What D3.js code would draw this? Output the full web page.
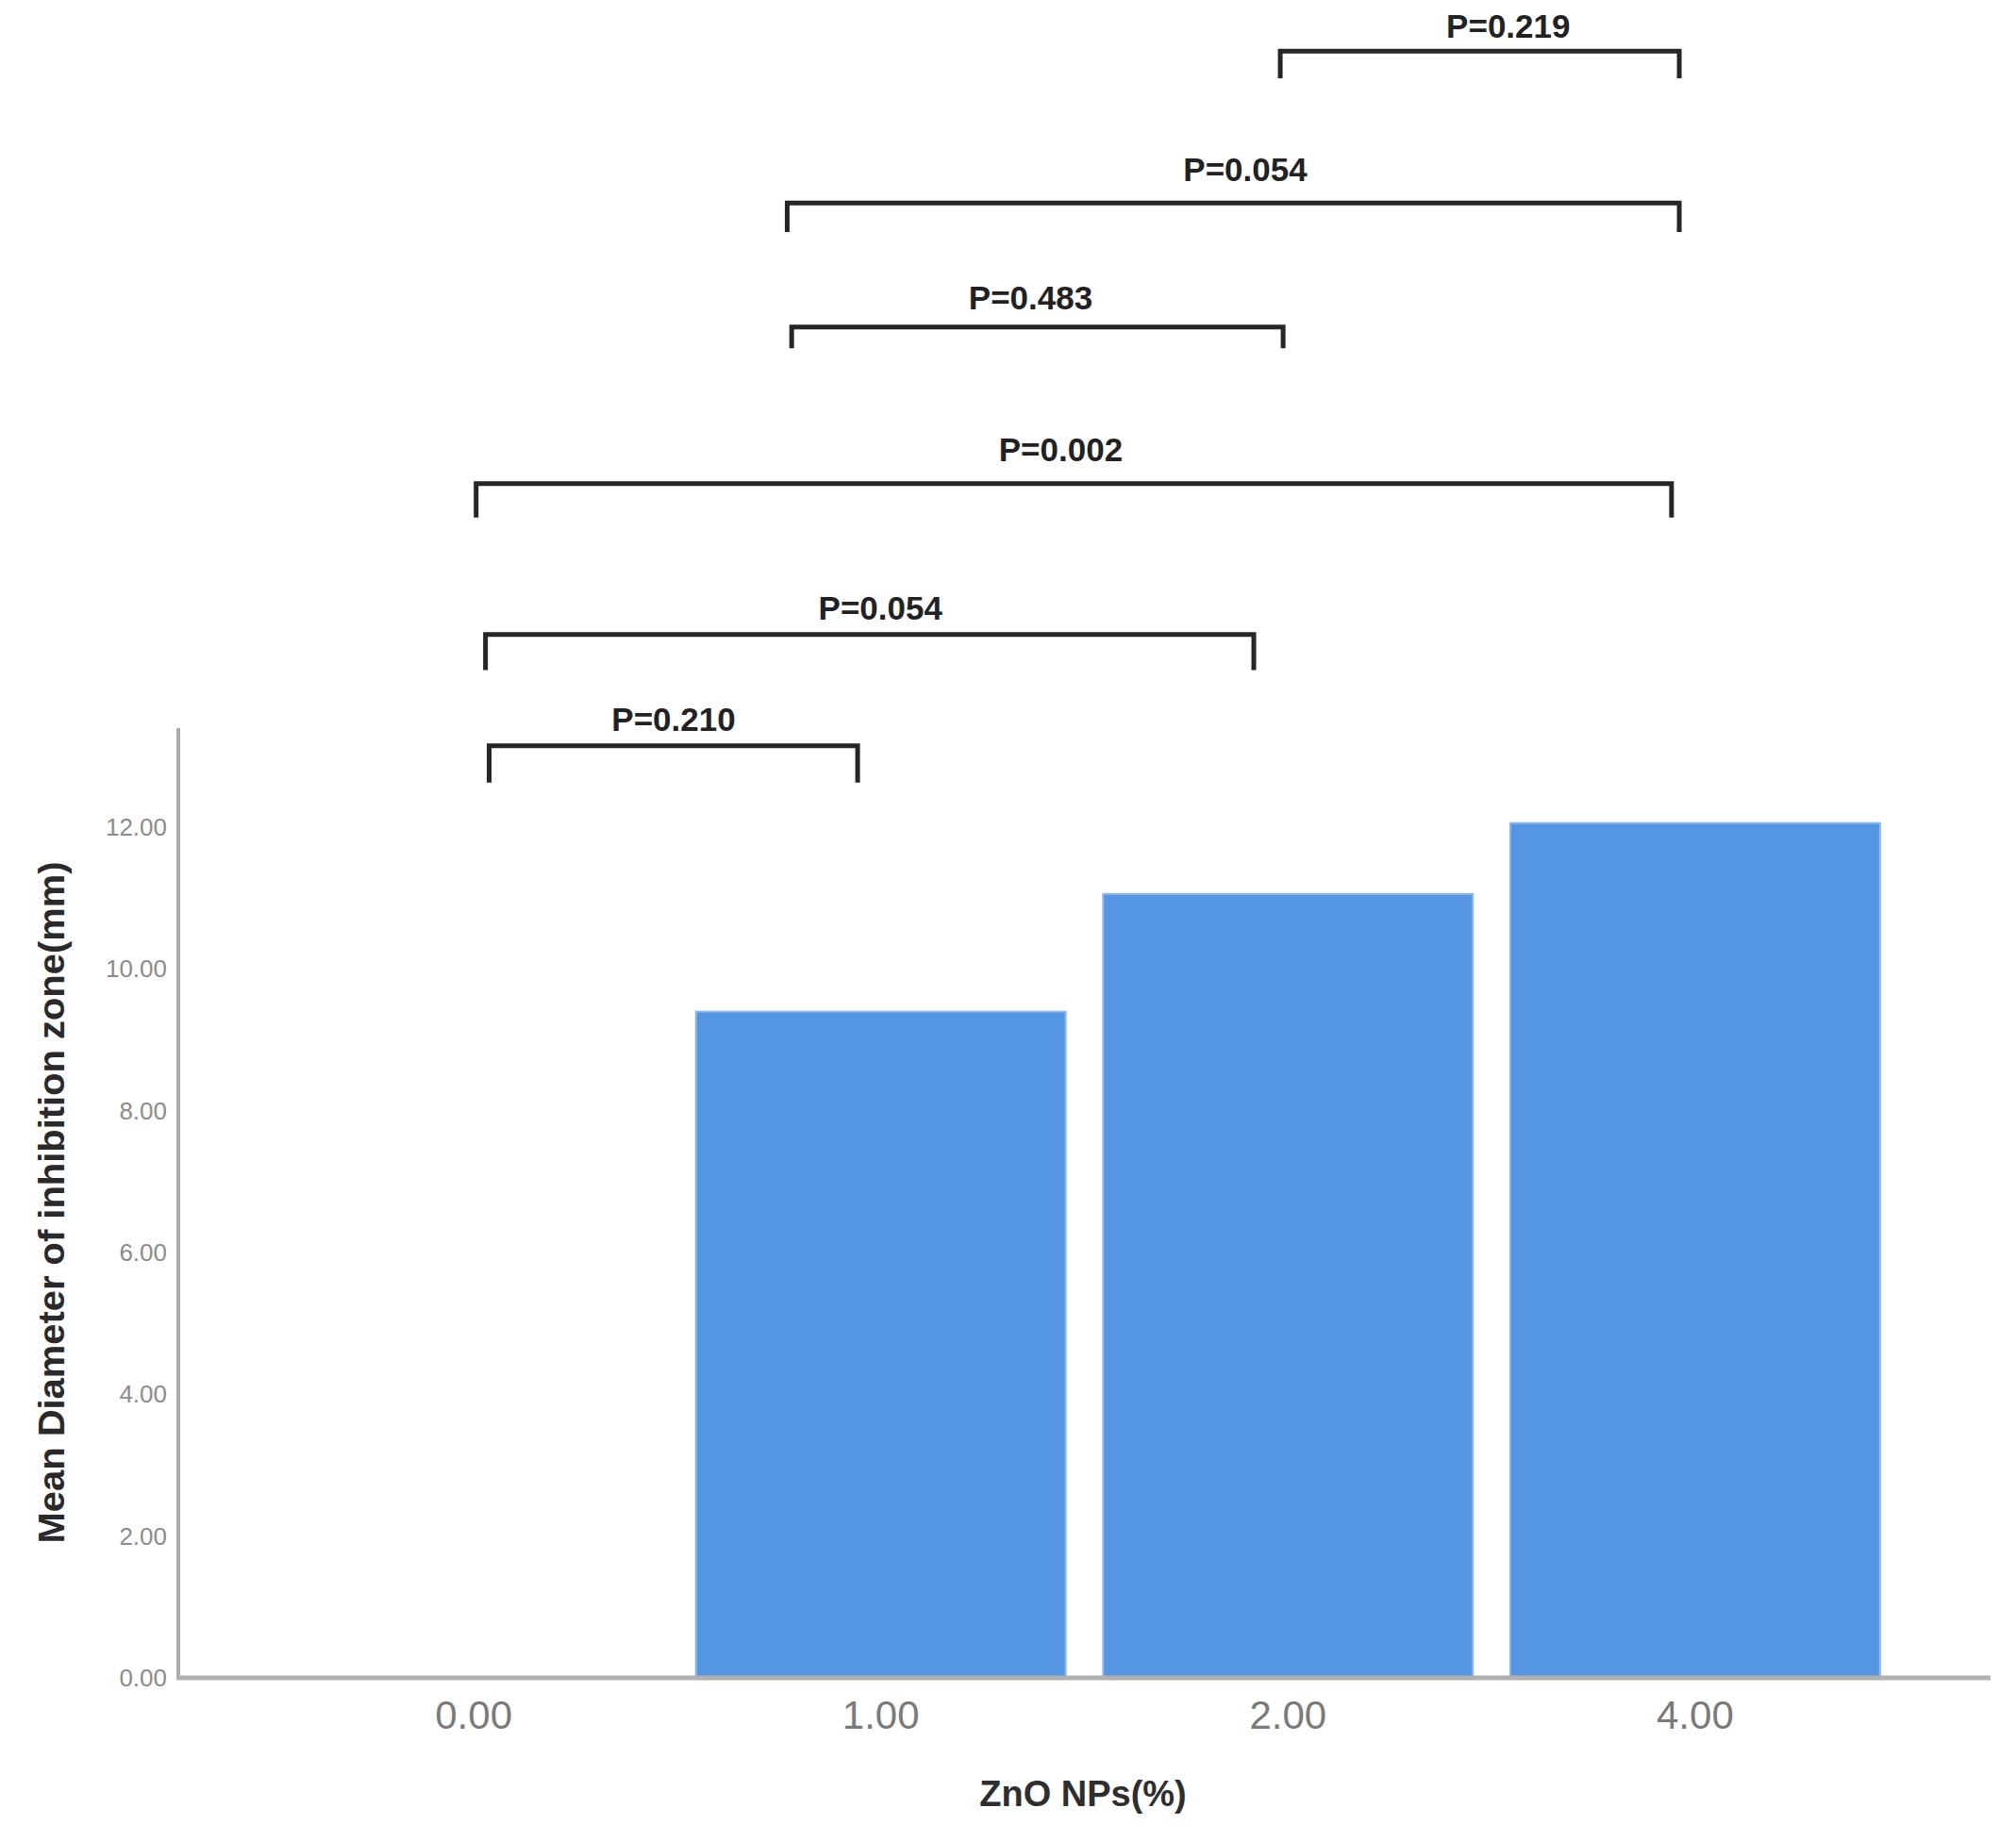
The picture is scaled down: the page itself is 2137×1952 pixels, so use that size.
<!DOCTYPE html>
<html>
<head>
<meta charset="utf-8">
<script src="https://cdn.jsdelivr.net/npm/d3@7"></script>
<style>
  html, body { margin: 0; padding: 0; background: #ffffff; }
  svg { display: block; }
</style>
</head>
<body>
<svg id="chart" width="2137" height="1952"></svg>
<script>
// ---- data ----
const categories = ["0.00", "1.00", "2.00", "4.00"];
const values = [0, 9.40, 11.06, 12.06];
const yTickValues = [0, 2, 4, 6, 8, 10, 12];
const yTickLabels = ["0.00", "2.00", "4.00", "6.00", "8.00", "10.00", "12.00"];
const yAxisMax = 13.4;

// pairwise comparison brackets (positions on category index axis, heights in mm)
const pLabels = ["P=0.219", "P=0.054", "P=0.483", "P=0.002", "P=0.054", "P=0.210"];
const bracketStart = [1.981, 0.770, 0.781, 0.006, 0.029, 0.038];
const bracketEnd = [2.961, 2.961, 1.988, 2.942, 1.916, 0.943];
const bracketTop = [22.95, 20.81, 19.06, 16.85, 14.72, 13.15];
const bracketFoot = [22.57, 20.40, 18.76, 16.37, 14.22, 12.63];
const labelPos = [2.541, 1.895, 1.368, 1.442, 0.999, 0.491];
const labelLevel = [23.31, 21.28, 19.47, 17.33, 15.09, 13.53];

const xTitle = "ZnO NPs(%)";
const yTitle = "Mean Diameter of inhibition zone(mm)";

// ---- layout ----
const svg = d3.select("#chart");
const axisLeft = 189, axisRight = 2110, baseY = 1779, topY = 772;

const x = d3.scaleBand()
  .domain(categories)
  .range([axisLeft, axisRight])
  .paddingInner(0.092)
  .paddingOuter(0.2715);

const y = d3.scaleLinear()
  .domain([0, yAxisMax])
  .range([baseY, topY]);

const c0 = x(categories[0]) + x.bandwidth() / 2;
const c3 = x(categories[3]) + x.bandwidth() / 2;
const xi = d3.scaleLinear().domain([0, 3]).range([c0, c3]);

// bars
svg.append("g")
  .selectAll("rect")
  .data(categories.map((c, i) => ({ c, v: values[i] })).filter(d => d.v > 0))
  .join("rect")
  .attr("x", d => x(d.c))
  .attr("y", d => y(d.v))
  .attr("width", x.bandwidth())
  .attr("height", d => y(0) - y(d.v))
  .attr("fill", "#5596e3")
  .attr("stroke", "#8db7ee")
  .attr("stroke-width", 2);

// y axis line
svg.append("line")
  .attr("x1", axisLeft).attr("x2", axisLeft)
  .attr("y1", y(yAxisMax)).attr("y2", y(0))
  .attr("stroke", "#ababab").attr("stroke-width", 4);

// x axis line
svg.append("line")
  .attr("x1", axisLeft - 2).attr("x2", axisRight)
  .attr("y1", y(0)).attr("y2", y(0))
  .attr("stroke", "#b0b0b0").attr("stroke-width", 5);

// y tick labels
const yAxis = d3.axisLeft(y)
  .tickValues(yTickValues)
  .tickFormat((d, i) => yTickLabels[i])
  .tickSize(0)
  .tickPadding(12);
const gy = svg.append("g").attr("transform", `translate(${axisLeft},0)`).call(yAxis);
gy.select(".domain").remove();
gy.selectAll("text")
  .attr("font-family", "Liberation Sans, Arial, sans-serif")
  .attr("font-size", 26)
  .attr("fill", "#8c8c8c");

// x tick labels
const xAxis = d3.axisBottom(x).tickSize(0).tickPadding(24);
const gx = svg.append("g").attr("transform", `translate(0,${y(0)})`).call(xAxis);
gx.select(".domain").remove();
gx.selectAll("text")
  .attr("font-family", "Liberation Sans, Arial, sans-serif")
  .attr("font-size", 42)
  .attr("fill", "#7a7a7a");

// axis titles
svg.append("text")
  .attr("x", 1148).attr("y", 1902)
  .attr("text-anchor", "middle")
  .attr("dominant-baseline", "central")
  .attr("font-family", "Liberation Sans, Arial, sans-serif")
  .attr("font-weight", "bold")
  .attr("font-size", 38)
  .attr("fill", "#2e2e2e")
  .text(xTitle);

svg.append("text")
  .attr("transform", "translate(55,1275) rotate(-90)")
  .attr("text-anchor", "middle")
  .attr("dominant-baseline", "central")
  .attr("font-family", "Liberation Sans, Arial, sans-serif")
  .attr("font-weight", "bold")
  .attr("font-size", 38)
  .attr("textLength", 723)
  .attr("lengthAdjust", "spacingAndGlyphs")
  .attr("fill", "#2a2a2a")
  .text(yTitle);

// brackets
const brackets = pLabels.map((p, i) => ({
  p, s: bracketStart[i], e: bracketEnd[i], t: bracketTop[i], f: bracketFoot[i],
  lp: labelPos[i], ll: labelLevel[i]
}));

const gb = svg.append("g");
gb.selectAll("path")
  .data(brackets)
  .join("path")
  .attr("d", d => `M${xi(d.s)},${y(d.f)} V${y(d.t)} H${xi(d.e)} V${y(d.f)}`)
  .attr("fill", "none")
  .attr("stroke", "#262626")
  .attr("stroke-width", 5)
  .attr("stroke-linejoin", "miter");

gb.selectAll("text")
  .data(brackets)
  .join("text")
  .attr("x", d => xi(d.lp))
  .attr("y", d => y(d.ll))
  .attr("text-anchor", "middle")
  .attr("dominant-baseline", "central")
  .attr("font-family", "Liberation Sans, Arial, sans-serif")
  .attr("font-weight", "bold")
  .attr("font-size", 35)
  .attr("fill", "#222222")
  .text(d => d.p);
</script>
</body>
</html>
